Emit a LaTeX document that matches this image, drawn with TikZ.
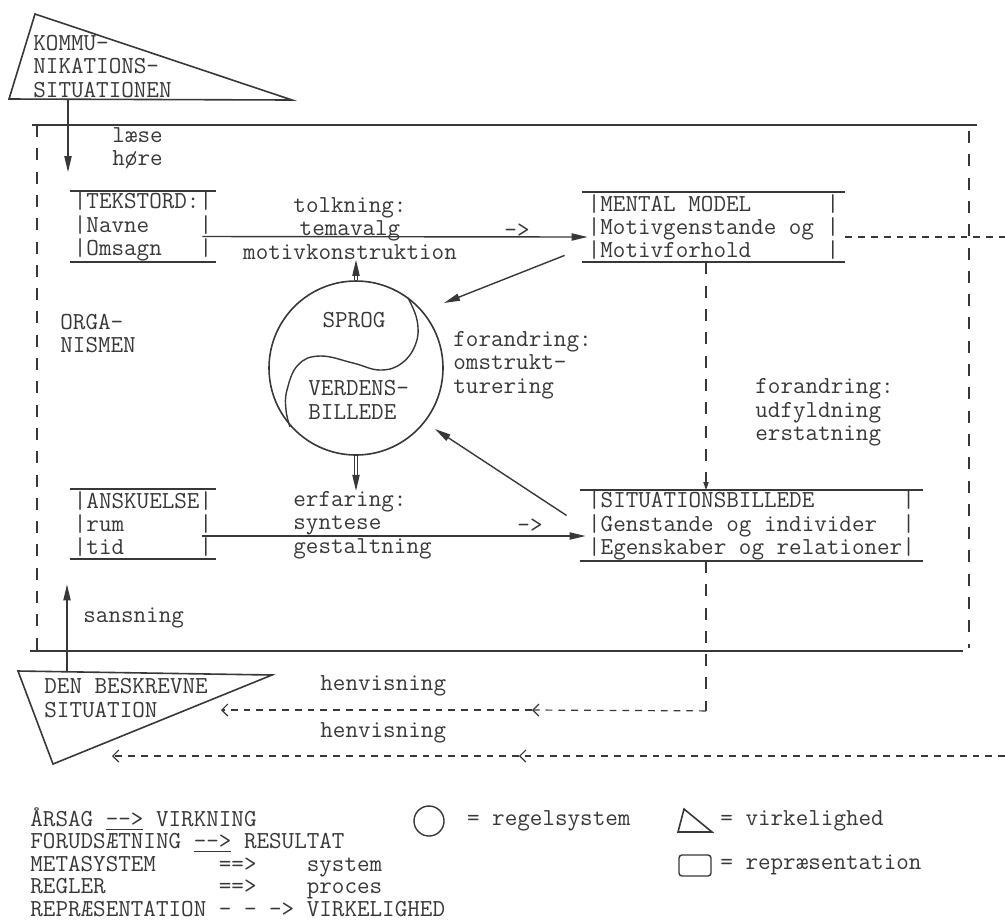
\documentclass[tikz,border=0pt]{standalone}
\usepackage{fontspec}
\usetikzlibrary{positioning,arrows.meta,calc}
\definecolor{ink}{HTML}{383838}
\newcommand\mono{\ttfamily\fontsize{12.2}{11.7}\selectfont}

\begin{document}
\begin{tikzpicture}[
  x=0.5pt, y=-0.5pt,
  every node/.style={inner sep=0pt,text=ink,font=\mono},
  lbl/.style={align=left,anchor=west},
  repbox/.style={align=left,minimum width=#1,minimum height=35pt},
  rulesys/.style={circle,draw=ink,line width=0.8pt,minimum size=87pt},
  orgline/.style={draw=ink,line width=1.1pt},
  boxrule/.style={draw=ink,line width=1pt},
  virk/.style={draw=ink,line width=0.8pt},
  arr/.style={draw=ink,line width=0.7pt,-{Triangle[length=8pt,width=3.6pt]}},
  dbl/.style={draw=ink,line width=0.45pt,double,double distance=1.3pt,shorten >=6pt},
  vdash/.style={draw=ink,line width=0.6pt,dash pattern=on 6pt off 5.65pt},
  hdash/.style={draw=ink,line width=0.6pt,dash pattern=on 3.4pt off 3pt},
  ref/.style={hdash,-{Straight Barb[length=3pt,width=6pt]}}
]
\useasboundingbox (0,0) rectangle (1005,923);

% kommunikationssituationen
\draw[virk] (35,14) -- (9,99) -- (292,100) -- cycle;
\node[lbl] (komm) at (33,66.5) {KOMMU-\\NIKATIONS-\\SITUATIONEN};
\coordinate (kbase) at (68,100);

% organismen
\draw[orgline] (32,125) -- (977,125);
\draw[orgline] (30,651) -- (963,651);
\draw[vdash] (37,125) -- (37,651);
\draw[vdash] (969,131) -- (969,648);
\node[lbl] (orga) at (60,333.5) {ORGA-\\NISMEN};

% repraesentationer
\node[repbox=73pt] (tekst) at (143,226.5) {|TEKSTORD:|\\|Navne~~~~|\\|Omsagn~~~|};
\node[repbox=131.5pt] (mental) at (713.5,227) {|MENTAL MODEL~~~~~~|\\|Motivgenstande og |\\|Motivforhold~~~~~~|};
\node[repbox=73pt] (ansk) at (143,524) {|ANSKUELSE|\\|rum~~~~~~|\\|tid~~~~~~|};
\node[repbox=171.5pt] (sitb) at (751.5,525.5) {|SITUATIONSBILLEDE~~~~~~~|\\|Genstande og individer~~|\\|Egenskaber og relationer|};
\foreach \b in {tekst,mental,ansk,sitb}
  \draw[boxrule] (\b.north west) -- (\b.north east) (\b.south west) -- (\b.south east);

% regelsystem
\node[rulesys] (regel) at (356,368) {};
\draw[virk,line width=0.7pt,shift={(regel.center)}] plot[smooth,tension=0.7] coordinates
  {(52,-70) (61,-48) (60,-25) (46,-5) (24,2) (-3,-5) (-36,-12) (-58,-3) (-69,22) (-70,42) (-66,59)};
\node (sprog) at (354,320) {SPROG};
\node[lbl] (verden) at (308,400) {VERDENS-\\BILLEDE};

% labels
\node[lbl] (laese) at (112,148.5) {læse\\høre};
\node[align=center] (tolk) at (350,228.5) {tolkning:\\temavalg\\motivkonstruktion};
\node[lbl] (foromst) at (453,365) {forandring:\\omstrukt-\\turering};
\node[lbl] (forudf) at (755,412.5) {forandring:\\udfyldning\\erstatning};
\node[lbl] (erf) at (293,525) {erfaring:\\syntese\\gestaltning};
\node[lbl] (sans) at (83,618) {sansning};
\node (pil1) at (517,231) {->};
\node (pil2) at (530,526) {->};

% forbindelser
\draw[arr,shorten >=9.5pt] (kbase) -- (kbase |- tekst.north);
\draw[arr] ([xshift=-7pt,yshift=-5pt]tekst.east) -- ([xshift=3pt,yshift=-5pt]mental.west);
\draw[arr] ([xshift=-7pt,yshift=-6pt]ansk.east) -- ([xshift=3pt,yshift=-5.25pt]sitb.west);
\draw[dbl] (regel.north) -- (regel.north |- tolk.south);
\draw[arr] ($(regel.north |- tolk.south)+(0,12)$) -- (regel.north |- tolk.south);
\draw[dbl] (regel.south) -- (regel.south |- erf.north);
\draw[arr] ($(regel.south |- erf.north)+(0,-12)$) -- (regel.south |- erf.north);
\draw[arr] ($(mental.south west)+(-17,-7)$) -- ($(regel.center)+(88,-65)$);
\draw[arr] ($(sitb.west)+(-13,-10)$) -- ($(regel.center)+(79,61)$);
\coordinate (mdash) at ([xshift=-3.75pt]mental.south);
\draw[vdash,-{Triangle[length=4pt,width=2.6pt]}] (mdash) -- (mdash |- sitb.north);
\draw[hdash] ([yshift=-5pt]mental.east) -- ++(160,0) coordinate (mout);

% den beskrevne situation
\draw[virk] (18,671) -- (272,675) -- (53,764) -- cycle;
\node[lbl] (beskr) at (44,698) {DEN BESKREVNE\\SITUATION};
\coordinate (sbase) at (67,672);
\draw[arr,shorten >=12.5pt] (sbase) -- (sbase |- ansk.south);

% henvisning
\node[lbl] (henv1) at (320,686) {henvisning};
\node[lbl] (henv2) at (320,733) {henvisning};
\coordinate (sdash) at (mdash |- sitb.south);
\draw[vdash] (sdash) -- ++(0,150) coordinate (h1r);
\coordinate (h1m) at (532,710);
\coordinate (h1l) at (221,710);
\draw[ref] (h1r) -- (h1m);
\draw[ref] (h1m) -- (h1l);
\coordinate (h2r) at (1005,756);
\coordinate (h2m) at (519,756);
\coordinate (h2l) at (112,756);
\draw[ref] (h2r) -- (h2m);
\draw[ref] (h2m) -- (h2l);

% forklaring
\node[lbl,font=\ttfamily\fontsize{12.2}{11.25}\selectfont] (legend) at (30,862)
  {ÅRSAG \underline{-{}->} VIRKNING\\FORUDSÆTNING \underline{-{}->} RESULTAT\\METASYSTEM~~~~~==>~~~~system\\REGLER~~~~~~~~~==>~~~~proces\\REPRÆSENTATION - - -> VIRKELIGHED};
\node[circle,draw=ink,line width=0.7pt,minimum size=15pt] (lcirc) at (429,821) {};
\node[lbl,right=11pt of lcirc] (lregel) {= regelsystem};
\draw[virk] (684,809) -- (678,832) -- (712,832) -- cycle;
\node[lbl] (lvirk) at (720,821) {= virkelighed};
\draw[draw=ink,line width=0.7pt,rounded corners=1.5pt] (679,855) rectangle (711,876);
\node[lbl] (lrep) at (720,865) {= repræsentation};
\end{tikzpicture}
\end{document}
